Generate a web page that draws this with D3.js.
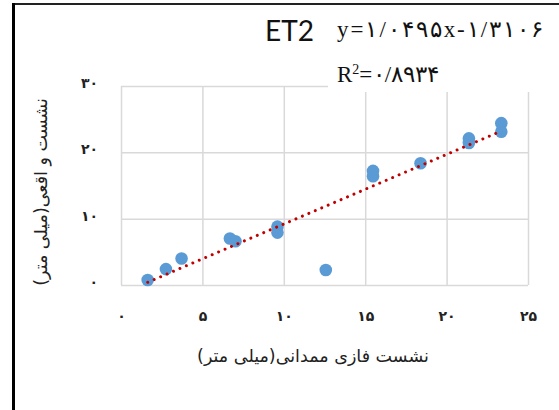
<!DOCTYPE html>
<html><head><meta charset="utf-8">
<script src="https://cdn.jsdelivr.net/npm/d3@7"></script>
<style>body{margin:0;background:#fff}svg{display:block}</style>
</head><body>
<script>
const xValues = [1.64, 2.76, 3.72, 6.69, 7.03, 9.61, 9.61, 12.58, 15.48, 15.48, 18.4, 21.37, 21.37, 23.36, 23.36];
const yValues = [0.75, 2.4, 4.0, 7.0, 6.6, 8.8, 7.9, 2.26, 17.2, 16.4, 18.35, 22.1, 21.4, 24.4, 23.1];
const xTicks = [0, 5, 10, 15, 20, 25];
const xTickLabels = ["۰", "۵", "۱۰", "۱۵", "۲۰", "۲۵"];
const yTicks = [0, 10, 20, 30];
const yTickLabels = ["۰", "۱۰", "۲۰", "۳۰"];
const slope = 1.0495, intercept = -1.3106;
const titleText = "ET2";
const eqText = "y=۱/۰۴۹۵x-۱/۳۱۰۶";
const r2Text = "۰/۸۹۳۴";
const xTitle = "نشست فازی ممدانی(میلی متر)";
const yTitle = "نشست و اقعی(میلی متر)";

const W = 559, H = 410;
const svg = d3.select("body").append("svg").attr("width", W).attr("height", H);
svg.append("rect").attr("width", W).attr("height", H).attr("fill", "#fff");

const L = 121, R = 528, T = 86, B = 285;
const x = d3.scaleLinear().domain([0, 25]).range([L, R]);
const y = d3.scaleLinear().domain([0, 30]).range([B, T]);

// gridlines
const gx = svg.append("g").attr("transform", `translate(0,${B})`)
  .call(d3.axisBottom(x).tickValues(xTicks).tickSize(-(B - T)).tickFormat(""));
gx.select(".domain").remove();
gx.selectAll("line").attr("stroke", "#d9d9d9").attr("stroke-width", 1.5);
const gy = svg.append("g").attr("transform", `translate(${L},0)`)
  .call(d3.axisLeft(y).tickValues(yTicks).tickSize(-(R - L)).tickFormat(""));
gy.select(".domain").remove();
gy.selectAll("line").attr("stroke", "#d9d9d9").attr("stroke-width", 1.5);

// tick labels
const ax = svg.append("g").attr("transform", `translate(0,${B + 36})`)
  .call(d3.axisBottom(x).tickValues(xTicks).tickSize(0).tickPadding(0)
    .tickFormat((d, i) => xTickLabels[i]));
ax.select(".domain").remove();
ax.selectAll("text").attr("font-family", "DejaVu Sans").attr("font-size", 14)
  .attr("font-weight", "bold").attr("fill", "#222").attr("dy", 0);
const ay = svg.append("g").attr("transform", `translate(98,-3)`)
  .call(d3.axisLeft(y).tickValues(yTicks).tickSize(0).tickPadding(0)
    .tickFormat((d, i) => yTickLabels[i]));
ay.select(".domain").remove();
ay.selectAll("text").attr("font-family", "DejaVu Sans").attr("font-size", 14)
  .attr("font-weight", "bold").attr("fill", "#222");

// label box covering grid
svg.append("rect").attr("x", 328).attr("y", 12).attr("width", 220).attr("height", 80).attr("fill", "#fff");

// points
const pts = xValues.map((v, i) => [v, yValues[i]]);
svg.append("g").selectAll("circle").data(pts).join("circle")
  .attr("cx", d => x(d[0])).attr("cy", d => y(d[1])).attr("r", 6.3)
  .attr("fill", "#5b9bd5");

// trendline
const xmin = d3.min(xValues), xmax = d3.max(xValues);
svg.append("line")
  .attr("x1", x(xmin)).attr("y1", y(slope * xmin + intercept))
  .attr("x2", x(xmax)).attr("y2", y(slope * xmax + intercept))
  .attr("stroke", "#c00000").attr("stroke-width", 3)
  .attr("stroke-linecap", "round").attr("stroke-dasharray", "0.01 7");

// title
svg.append("text").attr("x", 265).attr("y", 41).text(titleText)
  .attr("font-family", "Lato, 'Open Sans', sans-serif").attr("font-size", 28).attr("fill", "#111");
svg.append("text").attr("x", 337).attr("y", 37).attr("direction", "ltr").text(eqText)
  .attr("textLength", 206).attr("lengthAdjust", "spacing")
  .attr("font-family", "'Liberation Serif', 'DejaVu Serif', serif").attr("font-size", 23).attr("fill", "#111");
const r2 = svg.append("text").attr("x", 337).attr("y", 82).attr("direction", "ltr")
  .attr("font-family", "'Liberation Serif', 'DejaVu Serif', serif").attr("font-size", 23).attr("fill", "#111");
r2.append("tspan").text("R");
r2.append("tspan").text("2").attr("font-size", 14).attr("dy", -8);
r2.append("tspan").text("=" + r2Text).attr("dy", 8).attr("letter-spacing", 0.5);

// axis titles
svg.append("text").attr("x", 313).attr("y", 362).attr("text-anchor", "middle")
  .attr("font-family", "DejaVu Sans").attr("font-size", 17.5).attr("fill", "#222").text(xTitle);
svg.append("text").attr("transform", "translate(47,192) rotate(-90)").attr("text-anchor", "middle")
  .attr("font-family", "DejaVu Sans").attr("font-size", 17.5).attr("fill", "#222").text(yTitle);

// frame
svg.append("line").attr("x1", 12).attr("x2", W).attr("y1", 4).attr("y2", 4).attr("stroke", "#222").attr("stroke-width", 2);
svg.append("line").attr("x1", 13.5).attr("x2", 13.5).attr("y1", 3).attr("y2", H).attr("stroke", "#000").attr("stroke-width", 3);
</script>
</body></html>
